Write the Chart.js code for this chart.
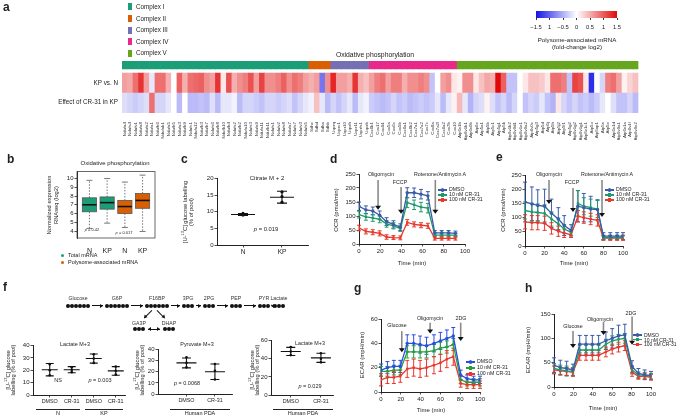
<!DOCTYPE html>
<html>
<head>
<meta charset="utf-8">
<script src="https://cdn.jsdelivr.net/npm/chart.js@4.4.1/dist/chart.umd.min.js"></script>
<style>
body{margin:0;background:#fff;font-family:'Liberation Sans',Arial,sans-serif}
#fig{position:relative;width:680px;height:417px;overflow:hidden;background:#fff}
.t{position:absolute;white-space:nowrap;color:#222;line-height:1;filter:grayscale(1)}
.dot{position:absolute;width:4px;height:4px;border-radius:50%;background:#111}
canvas{position:absolute}
</style>
</head>
<body>
<div id="fig"></div>
<script>
// ---- panel a: heatmap data ----
const complexNames = ['Complex I', 'Complex II', 'Complex III', 'Complex IV', 'Complex V'];
const complexColors = ['#1b9e77', '#d95f02', '#7570b3', '#e7298a', '#66a61e'];
const genesC1 = ['Ndufa4','Ndufs4','Ndufv1','Ndufa8','Ndufa2','Ndufa1','Ndufb6','Ndufab1','Ndufa5','Ndufb5','Ndufa3','Ndufb9','Ndufc1','Ndufa12','Ndufb3','Ndufb7','Ndufs6','Ndufb8','Ndufb10','Ndufb4','Ndufs2','Ndufb2','Ndufa10','Ndufs3','Ndufa9','Ndufa11','Ndufb11','Ndufs1','Ndufv2','Ndufs8','Ndufa7','Ndufs7','Ndufv3','Ndufs5'];
const genesC2 = ['Sdhc','Sdhd','Sdha','Sdhb'];
const genesC3 = ['Uqcrq','Uqcrc1','Uqcr10','Uqcrh','Uqcr11','Uqcrfs1','Uqcrb'];
const genesC4 = ['Cox6b1','Cox17','Cox4i1','Cox5a','Cox6c','Cox5b','Cox6a1','Cox6b2','Cox7a1','Cox7a2','Cox7c','Cox8a','Cox7a2l','Cox6a2','Cox7b','Cox10'];
const genesC5 = ['Atp6v1h','Atp6v1b1','Atp6v0b','Atp6e','Atp5a1','Atp5b','Atp5c1','Atp5g1','Atp5k','Atp6v1b2','Atp6v0d1','Atp6v1e1','Atp6v0a2','Atp6v0c','Atp5g3','Atp5d','Atp5j','Atp5h','Atp5j2','Atp5f1','Atp5g2','Atp6v1g2','Atp6v1g1','Atp6v1c1','Atp5o','Atp6ap1','Atp5s','Atp5e','Atp6v1d','Atp6v0a1','Atp6v1a','Atp6v1f','Atp6v0e2'];
const kpVsN = [0.5,0.45,0.8,1.2,0.5,-0.1,0.8,0.8,0.4,0.0,0.9,0.4,0.8,0.85,0.9,0.6,0.5,1.2,0.1,1.0,0.4,0.6,0.7,1.0,0.5,1.1,0.6,0.6,0.7,0.9,0.6,0.8,0.7,0.5,
  0.4,0.5,-0.8,0.6,
  1.3,0.5,0.5,0.4,1.2,0.4,0.3,
  0.5,0.7,0.8,0.5,0.7,0.7,0.4,0.6,0.6,0.7,0.6,-0.3,0.0,0.5,0.6,0.1,
  0.05,0.6,0.6,0.1,0.3,0.45,0.4,1.5,0.9,-0.3,-0.3,0.0,0.1,0.3,0.3,0.25,0.1,0.8,0.8,0.7,-0.3,1.1,1.0,0.1,-1.3,0.0,-0.2,0.7,0.8,0.5,0.05,0.2,0.3];
const cr31Effect = [-0.15,-0.2,-0.25,-0.2,-0.15,0.8,-0.2,-0.2,-0.1,0.0,-0.35,0.0,-0.35,-0.35,-0.3,-0.35,-0.15,-0.35,-0.1,-0.1,-0.05,-0.35,-0.2,-0.2,-0.25,-0.3,-0.2,-0.2,-0.25,-0.2,-0.15,-0.3,-0.2,-0.1,
  -0.05,0.3,-0.1,-0.35,
  -0.2,-0.3,-0.2,-0.1,-0.35,-0.1,-0.05,
  -0.25,-0.3,-0.35,-0.3,-0.2,-0.3,-0.25,-0.35,-0.3,-0.25,-0.3,-0.25,-0.1,-0.35,-0.1,0.05,
  0.35,-0.1,-0.4,-0.2,-0.15,0.05,-0.15,-0.3,-0.2,-0.35,-0.2,0.0,-0.3,-0.2,-0.25,-0.1,-0.3,-0.4,0.1,-0.2,-0.3,-0.2,-0.3,-0.25,-0.35,-0.25,-0.1,0.0,-0.15,-0.3,-0.3,-0.2,-0.35];
const heatRows = ['KP vs. N', 'Effect of CR-31 in KP'];
const colorbarTicks = ['\u22121.5', '1', '\u22120.5', '0', '0.5', '1', '1.5'];

// ---- panel b: boxplots ----
const boxLabels = ['N', 'KP', 'N', 'KP'];
const boxMin = [4.3, 4.9, 4.4, 3.95];
const boxQ1 = [6.2, 6.5, 6.0, 6.6];
const boxMed = [7.0, 7.25, 6.8, 7.5];
const boxQ3 = [7.8, 7.9, 7.5, 8.3];
const boxMax = [9.8, 10.0, 9.6, 10.4];

// ---- panel c: citrate M+2 ----
const citrateCats = ['N', 'KP'];
const citrateN = [9.0, 9.2, 9.5];
const citrateKP = [16.0, 14.6, 12.9];
const citrateMean = [9.2, 14.4];
const citrateSD = [0.3, 1.8];

// ---- panels d, e: OCR ----
const timeD = [0, 6.5, 13, 19.5, 26, 32.5, 39, 45.5, 52, 58.5, 65, 71.5, 78, 84.5, 91];
const ocrD_dmso = [135, 122, 118, 103, 80, 70, 60, 183, 183, 178, 172, 40, 40, 40, 38];
const ocrD_10 = [105, 97, 93, 88, 72, 65, 55, 148, 140, 132, 128, 32, 32, 32, 32];
const ocrD_100 = [57, 45, 42, 38, 25, 23, 22, 77, 70, 67, 65, 20, 20, 20, 20];
const errD_dmso = [15, 14, 14, 15, 14, 13, 12, 18, 17, 17, 15, 8, 8, 8, 8];
const errD_10 = [12, 12, 12, 12, 12, 11, 10, 18, 17, 17, 17, 7, 7, 7, 7];
const errD_100 = [10, 9, 9, 9, 8, 7, 7, 10, 9, 9, 9, 6, 6, 6, 6];
const timeE = [0, 7, 13, 20, 27, 34, 40, 47, 54, 60, 67, 74, 80, 87, 94, 100];
const ocrE_dmso = [155, 148, 143, 140, 115, 95, 72, 55, 140, 135, 130, 128, 35, 35, 35, 35];
const ocrE_10 = [125, 120, 118, 115, 95, 78, 60, 48, 150, 140, 135, 130, 30, 30, 30, 30];
const ocrE_100 = [85, 82, 82, 80, 62, 52, 45, 40, 105, 100, 95, 90, 28, 28, 28, 28];
const errE_dmso = [70, 60, 55, 60, 50, 40, 35, 20, 55, 50, 45, 35, 12, 12, 12, 12];
const errE_10 = [30, 30, 30, 30, 25, 20, 15, 10, 45, 30, 30, 30, 8, 8, 8, 8];
const errE_100 = [25, 25, 25, 25, 20, 18, 15, 10, 20, 20, 20, 20, 8, 8, 8, 8];

// ---- panel f: pathway and labelling ----
const pathway = [['Glucose', 6], ['G6P', 6], ['F16BP', 6], ['3PG', 3], ['2PG', 3], ['PEP', 3], ['PYR', 3], ['Lactate', 3]];
const f1Cats = ['DMSO', 'CR-31', 'DMSO', 'CR-31'];
const f1Points = [[25, 20, 16], [22.5, 20.5, 18.5], [33, 29.5, 26], [23, 19.5, 16.5]];
const f1Mean = [20.5, 20.5, 29.5, 19.5];
const f1SD = [5, 2.5, 3.7, 3.5];
const f2Cats = ['DMSO', 'CR-31'];
const f2Points = [[33, 28, 24], [27, 21, 13]];
const f2Mean = [28, 20];
const f2SD = [4.5, 7];
const f3Cats = ['DMSO', 'CR-31'];
const f3Points = [[53, 48, 44], [46, 40, 36]];
const f3Mean = [48, 41];
const f3SD = [4.5, 5];

// ---- panels g, h: ECAR ----
const timeGH = [0, 6.5, 13, 19.5, 26.5, 33, 39.5, 46, 53.5, 60, 66.5, 73, 80.5, 87, 93.5, 100];
const ecarG_dmso = [18, 20, 21, 21, 40, 40, 39, 38, 40, 42, 44, 46, 14, 11, 10, 10];
const ecarG_10 = [17, 17, 18, 18, 33, 33, 33, 33, 34, 36, 37, 39, 10, 8, 8, 8];
const ecarG_100 = [10, 12, 12, 13, 19, 20, 19, 20, 22, 24, 27, 29, 7, 6, 6, 6];
const errG_dmso = [5, 5, 5, 5, 7, 7, 7, 7, 7, 7, 7, 7, 4, 3, 3, 3];
const errG_10 = [4, 4, 4, 4, 5, 5, 5, 5, 5, 5, 5, 5, 3, 3, 3, 3];
const errG_100 = [5, 5, 5, 5, 7, 7, 7, 7, 7, 7, 7, 7, 3, 3, 3, 3];
const ecarH_dmso = [45, 40, 38, 35, 88, 88, 88, 88, 95, 100, 105, 107, 42, 28, 25, 24];
const ecarH_10 = [38, 35, 33, 32, 76, 76, 76, 76, 88, 95, 98, 100, 35, 25, 24, 22];
const ecarH_100 = [35, 33, 32, 30, 65, 65, 65, 65, 72, 78, 82, 85, 30, 22, 22, 20];
const errH_dmso = [15, 15, 15, 12, 18, 18, 18, 18, 18, 20, 22, 22, 12, 10, 10, 8];
const errH_10 = [10, 10, 10, 8, 10, 10, 10, 10, 10, 10, 10, 10, 8, 6, 6, 6];
const errH_100 = [8, 8, 8, 8, 10, 10, 10, 10, 10, 10, 10, 10, 8, 6, 6, 6];
const seriesNames = ['DMSO', '10 nM CR-31', '100 nM CR-31'];

const FF = "'Liberation Sans', Arial, sans-serif";
Chart.defaults.font.family = FF;
Chart.defaults.animation = false;
Chart.defaults.color = '#222';
const fig = document.getElementById('fig');

function txt(x, y, s, o = {}) {
  const d = document.createElement('div');
  d.className = 't';
  d.innerHTML = s;
  d.style.left = x + 'px';
  d.style.top = y + 'px';
  d.style.fontSize = (o.size || 6) + 'px';
  if (o.bold) d.style.fontWeight = 'bold';
  if (o.color) d.style.color = o.color;
  const ax = o.align === 'left' ? '0' : o.align === 'right' ? '-100%' : '-50%';
  d.style.transform = `translate(${ax},-50%)` + (o.rot ? ` rotate(${o.rot}deg)` : '');
  fig.appendChild(d);
  return d;
}
function rect(x, y, w, h, bg, cls) {
  const d = document.createElement('div');
  if (cls) d.className = cls;
  d.style.cssText += `position:absolute;left:${x}px;top:${y}px;width:${w}px;height:${h}px;background:${bg}`;
  fig.appendChild(d);
  return d;
}
function heat(v) {
  const t = Math.pow(Math.min(1, Math.abs(v) / 1.5), 0.85);
  if (v >= 0) return `rgb(${Math.round(255 - 30 * t)},${Math.round(255 - 245 * t)},${Math.round(255 - 245 * t)})`;
  return `rgb(${Math.round(255 - 235 * t)},${Math.round(255 - 235 * t)},${Math.round(255 - 25 * t)})`;
}

// canvas whose chart area is exactly x0..x1, y0..y1
function area(x0, y0, x1, y1, lw, bh, pt = 6, pr = 8) {
  const c = document.createElement('canvas');
  c.width = x1 - x0 + lw + pr;
  c.height = y1 - y0 + bh + pt;
  c.style.left = (x0 - lw) + 'px';
  c.style.top = (y0 - pt) + 'px';
  fig.appendChild(c);
  return { c, lw, bh, pad: { top: pt, right: pr, left: 0, bottom: 0 } };
}
function linAxis(min, max, ticks, fit, o = {}) {
  return {
    type: 'linear', min, max,
    afterBuildTicks: s => { s.ticks = ticks.map(v => ({ value: v })); },
    afterFit: fit,
    ticks: { font: { size: o.size || 6 }, color: '#222', padding: 1, maxRotation: 0, autoSkip: false, callback: o.cb || (v => v) },
    grid: { drawOnChartArea: false, drawTicks: true, tickLength: 2.5, color: '#222', lineWidth: 0.8 },
    border: { color: '#222', width: 1 }
  };
}

// plugins
const errPlugin = {
  id: 'errbars',
  beforeDatasetsDraw(chart) {
    const ctx = chart.ctx, xs = chart.scales.x, ys = chart.scales.y;
    chart.data.datasets.forEach(ds => {
      if (!ds.err) return;
      ctx.save();
      ctx.strokeStyle = ds.borderColor;
      ctx.lineWidth = 1;
      ds.data.forEach((p, i) => {
        const x = xs.getPixelForValue(p.x);
        const a = ys.getPixelForValue(p.y - ds.err[i]), b = ys.getPixelForValue(p.y + ds.err[i]);
        ctx.beginPath();
        ctx.moveTo(x, a); ctx.lineTo(x, b);
        ctx.moveTo(x - 2, a); ctx.lineTo(x + 2, a);
        ctx.moveTo(x - 2, b); ctx.lineTo(x + 2, b);
        ctx.stroke();
      });
      ctx.restore();
    });
  }
};
const arrowPlugin = {
  id: 'arrows',
  afterDraw(chart, args, opts) {
    const ctx = chart.ctx, xs = chart.scales.x, ys = chart.scales.y;
    (opts.list || []).forEach(a => {
      const x = xs.getPixelForValue(a.x), t = ys.getPixelForValue(a.top), b = ys.getPixelForValue(a.bottom);
      ctx.save();
      ctx.strokeStyle = '#8a8a8a';
      ctx.lineWidth = 1.6;
      ctx.beginPath(); ctx.moveTo(x, t); ctx.lineTo(x, b - 3); ctx.stroke();
      ctx.fillStyle = '#111';
      ctx.beginPath(); ctx.moveTo(x - 3, b - 4); ctx.lineTo(x + 3, b - 4); ctx.lineTo(x, b); ctx.closePath(); ctx.fill();
      ctx.restore();
    });
  }
};
const meanPlugin = {
  id: 'meansd',
  afterDatasetsDraw(chart) {
    const ctx = chart.ctx, xs = chart.scales.x, ys = chart.scales.y;
    chart.data.datasets.forEach(ds => {
      if (!ds.sd) return;
      ctx.save();
      ctx.strokeStyle = '#111';
      ctx.lineWidth = 1.1;
      ds.data.forEach((p, i) => {
        const x = xs.getPixelForValue(p.x), m = ys.getPixelForValue(p.y);
        const a = ys.getPixelForValue(p.y - ds.sd[i]), b = ys.getPixelForValue(p.y + ds.sd[i]);
        ctx.beginPath();
        ctx.moveTo(x - ds.halfW, m); ctx.lineTo(x + ds.halfW, m);
        ctx.moveTo(x, a); ctx.lineTo(x, b);
        ctx.moveTo(x - ds.capW, a); ctx.lineTo(x + ds.capW, a);
        ctx.moveTo(x - ds.capW, b); ctx.lineTo(x + ds.capW, b);
        ctx.stroke();
      });
      ctx.restore();
    });
  }
};
const boxPlugin = {
  id: 'boxes',
  afterDatasetsDraw(chart) {
    const ctx = chart.ctx, xs = chart.scales.x, ys = chart.scales.y;
    const ca = chart.chartArea;
    ctx.save();
    ctx.strokeStyle = '#444'; ctx.lineWidth = 0.8;
    ctx.strokeRect(ca.left, ca.top, ca.right - ca.left, ca.bottom - ca.top);
    chart.data.datasets.forEach(ds => {
      if (!ds.q1) return;
      ds.data.forEach((p, i) => {
        const x = xs.getPixelForValue(p.x);
        const hw = xs.getPixelForValue(p.x + 0.4) - x;
        const yMin = ys.getPixelForValue(ds.lo[i]), yMax = ys.getPixelForValue(ds.hi[i]);
        const yq1 = ys.getPixelForValue(ds.q1[i]), yq3 = ys.getPixelForValue(ds.q3[i]), ym = ys.getPixelForValue(p.y);
        ctx.strokeStyle = '#555'; ctx.lineWidth = 0.8;
        ctx.setLineDash([1.5, 1.5]);
        ctx.beginPath(); ctx.moveTo(x, yq3); ctx.lineTo(x, yMax); ctx.moveTo(x, yq1); ctx.lineTo(x, yMin); ctx.stroke();
        ctx.setLineDash([]);
        ctx.beginPath(); ctx.moveTo(x - 3, yMax); ctx.lineTo(x + 3, yMax); ctx.moveTo(x - 3, yMin); ctx.lineTo(x + 3, yMin); ctx.stroke();
        ctx.fillStyle = ds.boxColors[i];
        ctx.fillRect(x - hw, yq3, 2 * hw, yq1 - yq3);
        ctx.strokeRect(x - hw, yq3, 2 * hw, yq1 - yq3);
        ctx.strokeStyle = '#111'; ctx.lineWidth = 1.6;
        ctx.beginPath(); ctx.moveTo(x - hw, ym); ctx.lineTo(x + hw, ym); ctx.stroke();
      });
    });
    ctx.restore();
  }
};

// ================= panel a =================
txt(3, 7, 'a', { size: 12, bold: true, align: 'left' });
complexNames.forEach((n, i) => {
  const y = [6.5, 18.5, 30, 41.5, 53][i];
  rect(128, y - 3.5, 4, 7, complexColors[i]);
  txt(136, y, n, { size: 6.3, align: 'left' });
});
rect(536, 11, 81, 6.5, 'linear-gradient(to right, rgb(20,20,230), #fff, rgb(225,10,10))');
colorbarTicks.forEach((s, i) => {
  const x = 536 + i * 13.5;
  rect(x - 0.4, 17.5, 0.8, 2.5, '#333');
  txt(x, 28, s, { size: 5.8 });
});
txt(577, 39.5, 'Polysome-associated mRNA', { size: 6.2 });
txt(577, 47, '(fold-change log2)', { size: 6.2 });
txt(375, 55, 'Oxidative phosphorylation', { size: 6.8 });
txt(118, 83, heatRows[0], { size: 6.3, align: 'right' });
txt(118, 102, heatRows[1], { size: 6.3, align: 'right' });

const genes = [...genesC1, ...genesC2, ...genesC3, ...genesC4, ...genesC5];
const geneComplex = [genesC1, genesC2, genesC3, genesC4, genesC5].flatMap((g, k) => g.map(() => complexColors[k]));
{
  const A = area(122, 61, 640, 113, 0, 27, 2, 2);
  const unit = genes.map(() => 1);
  new Chart(A.c, {
    type: 'bar',
    data: {
      labels: genes,
      datasets: [
        { data: unit, backgroundColor: cr31Effect.map(heat) },
        { data: unit, backgroundColor: kpVsN.map(heat) },
        { data: genes.map(() => 0.2), backgroundColor: 'rgba(0,0,0,0)' },
        { data: genes.map(() => 0.4), backgroundColor: geneComplex }
      ]
    },
    options: {
      responsive: false,
      layout: { padding: A.pad },
      plugins: { legend: { display: false }, tooltip: { enabled: false } },
      datasets: { bar: { barPercentage: 1, categoryPercentage: 1, borderWidth: 0 } },
      scales: {
        x: {
          stacked: true, afterFit: s => { s.height = A.bh; },
          grid: { display: false }, border: { display: false },
          ticks: { font: { size: 4.4 }, color: '#333', minRotation: 90, maxRotation: 90, autoSkip: false, padding: 1 }
        },
        y: { stacked: true, min: 0, max: 2.6, display: false }
      }
    }
  });
}

// ================= panel b =================
txt(7, 159, 'b', { size: 12, bold: true, align: 'left' });
txt(115, 163, 'Oxidative phosphorylation', { size: 6 });
txt(50, 205, 'Normalized expression', { size: 5.8, rot: -90 });
txt(56.5, 205, 'RNAseq (log2)', { size: 5.8, rot: -90 });
{
  const A = area(77, 171, 155, 238, 14, 16, 4, 4);
  new Chart(A.c, {
    type: 'scatter',
    data: {
      datasets: [{
        data: boxMed.map((m, i) => ({ x: i + 1, y: m })), pointRadius: 0,
        q1: boxQ1, q3: boxQ3, lo: boxMin, hi: boxMax,
        boxColors: ['#1b9e77', '#1b9e77', '#d95f02', '#d95f02']
      }]
    },
    plugins: [boxPlugin],
    options: {
      responsive: false,
      layout: { padding: A.pad },
      plugins: { legend: { display: false }, tooltip: { enabled: false } },
      scales: {
        x: Object.assign(linAxis(0.3, 4.7, [1, 2, 3, 4], s => { s.height = A.bh; }, { size: 7, cb: v => boxLabels[v - 1] }), { grid: { display: false }, border: { display: false } }),
        y: linAxis(3.2, 10.8, [4, 5, 6, 7, 8, 9, 10], s => { s.width = A.lw; })
      }
    }
  });
}
txt(92, 229.5, '<i>p</i> = 0.42', { size: 4 });
txt(124, 232.5, '<i>p</i> = 0.017', { size: 4 });
rect(60.5, 254, 3, 3, '#1b9e77').style.borderRadius = '50%';
rect(60.5, 261, 3, 3, '#d95f02').style.borderRadius = '50%';
txt(68, 255.7, 'Total mRNA', { size: 5.5, align: 'left' });
txt(68, 262.7, 'Polysome-associated mRNA', { size: 5.5, align: 'left' });

// ================= dot plots (c, f) =================
function dotPlot(A, cats, pts, means, sds, ymin, ymax, yt, xmin, xmax, o = {}) {
  const points = pts.flatMap((g, i) => g.map(v => ({ x: i + 1, y: v })));
  new Chart(A.c, {
    type: 'scatter',
    data: {
      datasets: [
        { data: points, pointRadius: o.r || 1.6, pointBackgroundColor: '#111', pointBorderWidth: 0 },
        { data: means.map((m, i) => ({ x: i + 1, y: m })), pointRadius: 0, sd: sds, halfW: o.halfW || 11, capW: o.capW || 5 }
      ]
    },
    plugins: [meanPlugin],
    options: {
      responsive: false,
      layout: { padding: A.pad },
      plugins: { legend: { display: false }, tooltip: { enabled: false } },
      scales: {
        x: linAxis(xmin, xmax, cats.map((c, i) => i + 1), s => { s.height = A.bh; }, { size: o.xs || 6, cb: v => cats[v - 1] }),
        y: linAxis(ymin, ymax, yt, s => { s.width = A.lw; }, { size: o.ys || 6 })
      }
    }
  });
}
txt(181, 159, 'c', { size: 12, bold: true, align: 'left' });
txt(267, 177.5, 'Citrate M + 2', { size: 6 });
txt(185, 212, '[U-<sup style="font-size:4px">13</sup>C] glucose labelling', { size: 5.8, rot: -90 });
txt(191.5, 212, '(% of pool)', { size: 5.8, rot: -90 });
dotPlot(area(217, 178, 308, 245, 14, 15, 4, 6), citrateCats, [citrateN, citrateKP], citrateMean, citrateSD,
  0, 20, [0, 5, 10, 15, 20], 0.333, 2.667, { xs: 6.5, halfW: 12, capW: 5 });
txt(266, 230, '<i>p</i> = 0.019', { size: 5.8 });

// ================= line charts (d, e, g, h) =================
function lineChart(A, t, ys, errs, colors, xmax, ymax, yt, arrows) {
  const styles = ['circle', 'rect', 'rect'];
  new Chart(A.c, {
    type: 'line',
    data: {
      datasets: ys.map((v, k) => ({
        data: v.map((y, i) => ({ x: t[i], y })), err: errs[k],
        borderColor: colors[k], backgroundColor: colors[k], borderWidth: 1.3,
        pointStyle: styles[k], pointRadius: 1.7, pointBorderWidth: 0, tension: 0
      }))
    },
    plugins: [errPlugin, arrowPlugin],
    options: {
      responsive: false,
      layout: { padding: A.pad },
      plugins: { legend: { display: false }, tooltip: { enabled: false }, arrows: { list: arrows } },
      scales: {
        x: linAxis(0, xmax, [0, 20, 40, 60, 80, 100], s => { s.height = A.bh; }),
        y: linAxis(0, ymax, yt, s => { s.width = A.lw; })
      }
    }
  });
}
function legend(x, y, gap, colors, size) {
  seriesNames.forEach((n, k) => {
    const yy = y + k * gap;
    rect(x, yy - 0.6, 9, 1.2, colors[k]);
    const m = rect(x + 3, yy - 1.6, 3.2, 3.2, colors[k]);
    if (k === 0) m.style.borderRadius = '50%';
    txt(x + 11, yy, n, { size: size, align: 'left' });
  });
}
const colD = ['#3b5ba8', '#1e9a6a', '#e8372c'];
txt(330, 159, 'd', { size: 12, bold: true, align: 'left' });
txt(336, 210, 'OCR (pmol/min)', { size: 6, rot: -90 });
lineChart(area(359, 174, 465, 244, 16, 14), timeD, [ocrD_dmso, ocrD_10, ocrD_100], [errD_dmso, errD_10, errD_100], colD,
  100, 250, [0, 50, 100, 150, 200, 250],
  [{ x: 18, top: 229, bottom: 122 }, { x: 39.7, top: 204, bottom: 108 }, { x: 72, top: 229, bottom: 108 }]);
txt(381, 175, 'Oligomycin', { size: 5.3 });
txt(400, 183, 'FCCP', { size: 5.3 });
txt(440, 175, 'Rotenone/Antimycin A', { size: 5.3 });
legend(438, 190, 5, colD, 5.2);
txt(412, 263, 'Time (min)', { size: 6 });

txt(496, 157, 'e', { size: 12, bold: true, align: 'left' });
txt(503, 210, 'OCR (pmol/min)', { size: 6, rot: -90 });
lineChart(area(525, 175, 623, 246, 16, 14), timeE, [ocrE_dmso, ocrE_10, ocrE_100], [errE_dmso, errE_10, errE_100], colD,
  100, 250, [0, 50, 100, 150, 200, 250],
  [{ x: 24.5, top: 232, bottom: 148 }, { x: 49, top: 204, bottom: 120 }, { x: 78.6, top: 232, bottom: 102 }]);
txt(549, 175, 'Oligomycin', { size: 5.3 });
txt(572, 183, 'FCCP', { size: 5.3 });
txt(607, 175, 'Rotenone/Antimycin A', { size: 5.3 });
legend(605, 190, 5, colD, 5.2);
txt(574, 263, 'Time (min)', { size: 6 });

const colG = ['#2a4fe0', '#27a03c', '#e8372c'];
txt(354, 288, 'g', { size: 12, bold: true, align: 'left' });
txt(362, 355, 'ECAR (mpH/min)', { size: 6, rot: -90 });
lineChart(area(381, 319, 480, 392, 14, 14), timeGH, [ecarG_dmso, ecarG_10, ecarG_100], [errG_dmso, errG_10, errG_100], colG,
  100, 60, [0, 20, 40, 60],
  [{ x: 21, top: 50, bottom: 32.6 }, { x: 49.6, top: 57, bottom: 48 }, { x: 80.5, top: 57, bottom: 42 }]);
txt(397, 326, 'Glucose', { size: 5.3 });
txt(430, 319, 'Oligomycin', { size: 5.3 });
txt(461, 319, '2DG', { size: 5.3 });
legend(466, 362, 6, colG, 5.2);
txt(431, 410, 'Time (min)', { size: 6 });

txt(525, 288, 'h', { size: 12, bold: true, align: 'left' });
txt(528, 350, 'ECAR (mpH/min)', { size: 6, rot: -90 });
lineChart(area(554, 314, 651, 387, 16, 14), timeGH, [ecarH_dmso, ecarH_10, ecarH_100], [errH_dmso, errH_10, errH_100], colD,
  100, 150, [0, 50, 100, 150],
  [{ x: 19.6, top: 115, bottom: 80 }, { x: 51, top: 134, bottom: 107 }, { x: 80.5, top: 145, bottom: 87 }]);
txt(573, 327, 'Glucose', { size: 5.3 });
txt(600, 320, 'Oligomycin', { size: 5.3 });
txt(631, 314, '2DG', { size: 5.3 });
legend(633, 335, 4.7, colD, 5);
txt(603, 408, 'Time (min)', { size: 6 });

// ================= panel f =================
txt(3, 287, 'f', { size: 12, bold: true, align: 'left' });
{
  const starts = [66, 105, 145, 182, 203, 230, 258, 273];
  const chainY = 305.5;
  const arrow = (x1, y1, x2, y2, both) => {
    const dx = x2 - x1, dy = y2 - y1, L = Math.hypot(dx, dy);
    const ln = rect(x1, y1 - 0.4, L, 0.8, '#111');
    ln.style.transformOrigin = '0 50%';
    ln.style.transform = `rotate(${Math.atan2(dy, dx)}rad)`;
    const head = (hx, hy, ang) => {
      const h = document.createElement('div');
      h.style.cssText = `position:absolute;left:${hx - 3}px;top:${hy - 2}px;width:0;height:0;border-left:3px solid #111;border-top:2px solid transparent;border-bottom:2px solid transparent;transform-origin:3px 2px;transform:rotate(${ang}rad)`;
      fig.appendChild(h);
    };
    head(x2, y2, Math.atan2(dy, dx));
    if (both) head(x1, y1, Math.atan2(-dy, -dx));
  };
  pathway.forEach(([name, n], i) => {
    for (let k = 0; k < n; k++) rect(starts[i] + k * 4, chainY - 2, 4, 4, '#111', 'dot');
    txt(starts[i] + n * 2, 299, name, { size: 5.2, color: '#333' });
    if (i > 0) arrow(starts[i - 1] + pathway[i - 1][1] * 4 + 2, chainY, starts[i] - 2, chainY);
  });
  for (let k = 0; k < 3; k++) { rect(133 + k * 4, 327, 4, 4, '#111', 'dot'); rect(163 + k * 4, 327, 4, 4, '#111', 'dot'); }
  txt(139, 323.5, 'GA3P', { size: 5.2, color: '#333' });
  txt(169, 323.5, 'DHAP', { size: 5.2, color: '#333' });
  arrow(148, 329, 160, 329, true);
  arrow(152, 310, 144, 318);
  arrow(157, 310, 165, 318);
}
txt(7.5, 370, '[U-<sup style="font-size:4px">13</sup>C] glucose', { size: 5.8, rot: -90 });
txt(13.5, 370, 'labelling (% of pool)', { size: 5.8, rot: -90 });
txt(75, 345, 'Lactate M+3', { size: 5.4 });
dotPlot(area(33, 345, 125, 395, 12, 10, 4, 4), f1Cats, f1Points, f1Mean, f1SD,
  0, 40, [0, 10, 20, 30, 40], 0.24, 4.42, { xs: 5.4, ys: 6, halfW: 8, capW: 4, r: 1.3 });
txt(58, 381, 'NS', { size: 5.5 });
txt(100, 381, '<i>p</i> = 0.003', { size: 5.5 });
rect(36, 408.5, 44, 0.8, '#222'); txt(58, 414, 'N', { size: 5.5 });
rect(85, 408.5, 38, 0.8, '#222'); txt(104, 414, 'KP', { size: 5.5 });

txt(136.5, 370, '[U-<sup style="font-size:4px">13</sup>C] glucose', { size: 5.8, rot: -90 });
txt(142.5, 370, 'labelling (% of pool)', { size: 5.8, rot: -90 });
txt(197, 345, 'Pyruvate M+3', { size: 5.4 });
dotPlot(area(158, 349, 232, 394, 12, 10, 4, 4), f2Cats, f2Points, f2Mean, f2SD,
  0, 40, [0, 10, 20, 30, 40], 0, 2.6, { xs: 5.4, ys: 6, halfW: 10, capW: 4.5, r: 1.3 });
txt(187, 383.5, '<i>p</i> = 0.0068', { size: 5.5 });
rect(170, 408.5, 60, 0.8, '#222'); txt(200, 414, 'Human PDA', { size: 5.5 });

txt(251.5, 370, '[U-<sup style="font-size:4px">13</sup>C] glucose', { size: 5.8, rot: -90 });
txt(257.5, 370, 'labelling (% of pool)', { size: 5.8, rot: -90 });
txt(310, 344, 'Lactate M+3', { size: 5.4 });
dotPlot(area(271, 340, 333, 395, 12, 10, 4, 4), f3Cats, f3Points, f3Mean, f3SD,
  0, 60, [0, 20, 40, 60], 0.345, 2.4, { xs: 5.4, ys: 6, halfW: 10, capW: 4.5, r: 1.3 });
txt(310, 387, '<i>p</i> = 0.029', { size: 5.5 });
rect(273, 408.5, 60, 0.8, '#222'); txt(303, 414, 'Human PDA', { size: 5.5 });
</script>
</body>
</html>
